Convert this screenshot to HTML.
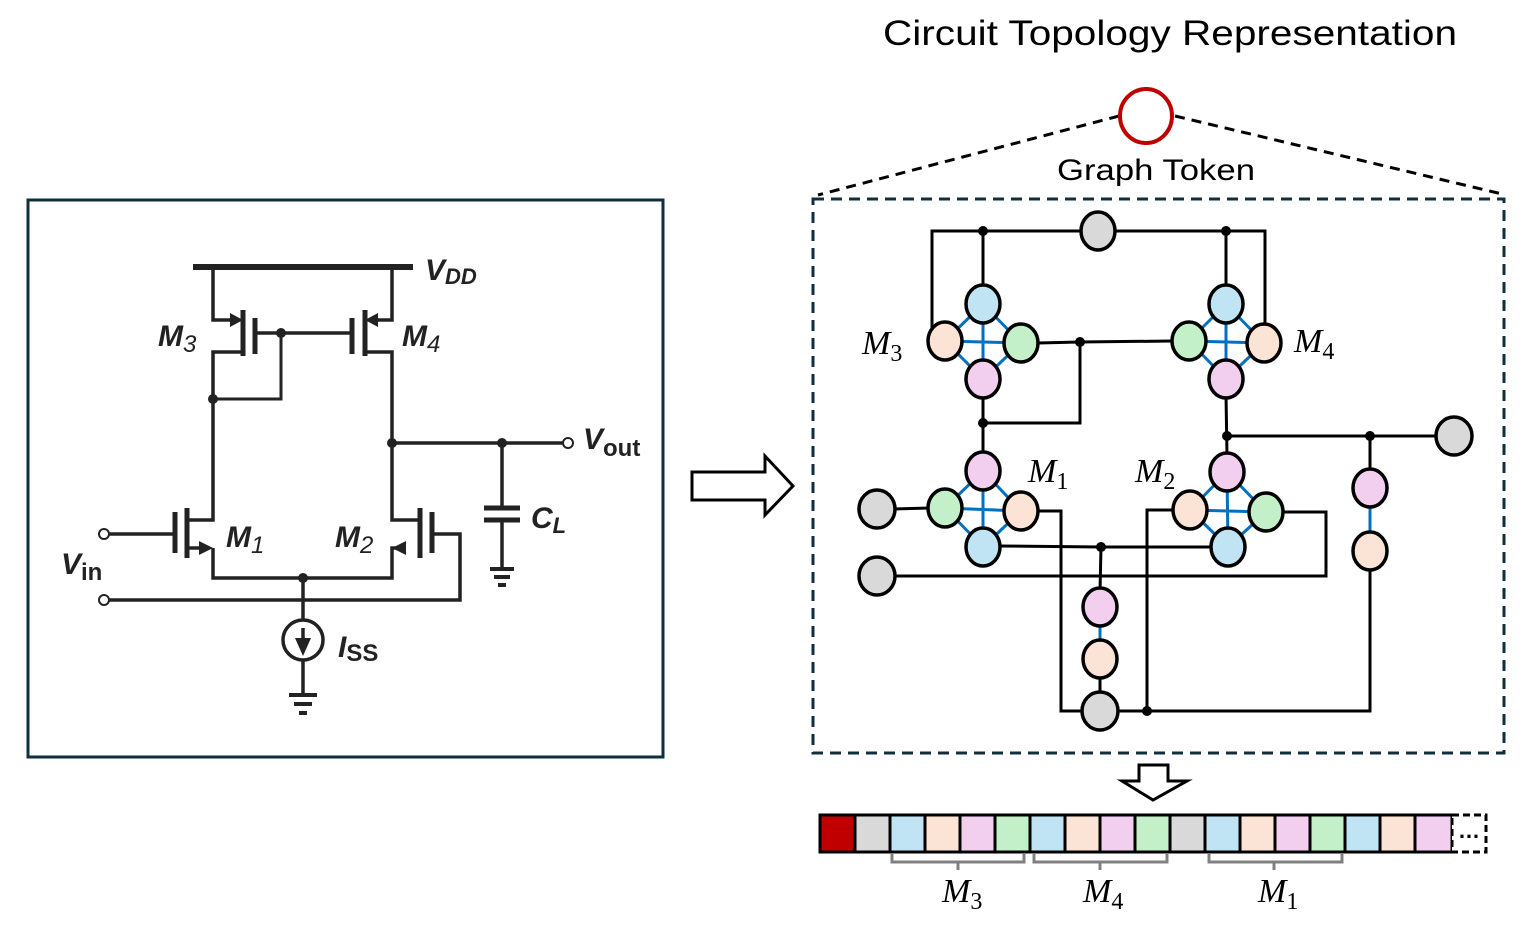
<!DOCTYPE html>
<html><head><meta charset="utf-8"><style>
html,body{margin:0;padding:0;background:#fff;}
svg{display:block;}
.cl{font-family:"Liberation Sans",sans-serif;font-weight:bold;font-style:italic;fill:#222;}
.gl{font-family:"Liberation Serif",serif;font-style:italic;fill:#000;}
.sub{font-family:"Liberation Serif",serif;font-style:normal;}
</style></head><body>
<svg width="1538" height="926" viewBox="0 0 1538 926" xmlns="http://www.w3.org/2000/svg">
<rect x="28" y="200" width="635" height="557" fill="#fff" stroke="#0f2f3f" stroke-width="3"/>
<g stroke="#222" stroke-width="3.5" fill="none">
  <line x1="193" y1="267" x2="413" y2="267" stroke-width="6"/>
  <polyline points="213,267 213,320 232,320"/>
  <line x1="243" y1="310" x2="243" y2="356" stroke-width="5"/>
  <line x1="255" y1="318" x2="255" y2="354" stroke-width="5"/>
  <polyline points="243,352 213,352 213,520 187,520"/>
  <line x1="255" y1="333" x2="350" y2="333"/>
  <polyline points="213,399 281,399 281,333" stroke-width="3"/>
  <polyline points="392,267 392,320 375,320"/>
  <line x1="365" y1="310" x2="365" y2="356" stroke-width="5"/>
  <line x1="352" y1="318" x2="352" y2="354" stroke-width="5"/>
  <polyline points="365,352 392,352 392,520 420,520"/>
  <line x1="187" y1="508" x2="187" y2="558" stroke-width="5"/>
  <line x1="175" y1="512" x2="175" y2="553" stroke-width="5"/>
  <line x1="109" y1="534" x2="175" y2="534"/>
  <polyline points="187,548 200,548"/>
  <polyline points="213,548 213,578 392,578 392,548 405,548"/>
  <line x1="420" y1="508" x2="420" y2="558" stroke-width="5"/>
  <line x1="432" y1="512" x2="432" y2="553" stroke-width="5"/>
  <polyline points="432,534 460,534 460,600 109,600"/>
  <line x1="392" y1="443" x2="563" y2="443"/>
  <line x1="502" y1="443" x2="502" y2="508"/>
  <line x1="484" y1="508" x2="520" y2="508" stroke-width="5"/>
  <line x1="484" y1="520" x2="520" y2="520" stroke-width="5"/>
  <line x1="502" y1="520" x2="502" y2="568"/>
  <line x1="490" y1="569" x2="514" y2="569" stroke-width="4"/>
  <line x1="494" y1="577" x2="510" y2="577" stroke-width="4"/>
  <line x1="498" y1="585" x2="506" y2="585" stroke-width="4"/>
  <line x1="303" y1="578" x2="303" y2="620"/>
  <circle cx="303" cy="640" r="20"/>
  <line x1="303" y1="628" x2="303" y2="640"/>
  <line x1="303" y1="660" x2="303" y2="694"/>
  <line x1="289" y1="695" x2="317" y2="695" stroke-width="4"/>
  <line x1="294" y1="704" x2="312" y2="704" stroke-width="4"/>
  <line x1="299" y1="713" x2="307" y2="713" stroke-width="4"/>
</g>
<g fill="#222">
  <polygon points="243,320 230,313 230,327"/>
  <polygon points="365,320 378,313 378,327"/>
  <polygon points="213,548 199,541 199,555"/>
  <polygon points="392,548 406,541 406,555"/>
  <polygon points="303,656 295,638 311,638"/>
  <circle cx="281" cy="333" r="5"/><circle cx="213" cy="399" r="5"/>
  <circle cx="392" cy="443" r="5"/><circle cx="502" cy="443" r="5"/>
  <circle cx="303" cy="578" r="5"/>
</g>
<g fill="#fff" stroke="#222" stroke-width="2">
  <circle cx="104" cy="534" r="5"/><circle cx="104" cy="600" r="5"/><circle cx="568" cy="443" r="5"/>
</g>
<text class="cl" x="425" y="280" font-size="30">V<tspan font-size="22" dy="4">DD</tspan></text>
<text class="cl" x="158" y="346" font-size="30">M<tspan font-size="24" dy="6" font-weight="normal">3</tspan></text>
<text class="cl" x="402" y="346" font-size="30">M<tspan font-size="24" dy="6" font-weight="normal">4</tspan></text>
<text class="cl" x="226" y="547" font-size="30">M<tspan font-size="24" dy="6" font-weight="normal">1</tspan></text>
<text class="cl" x="335" y="547" font-size="30">M<tspan font-size="24" dy="6" font-weight="normal">2</tspan></text>
<text class="cl" x="61" y="574" font-size="30">V<tspan font-size="24" dy="6" font-style="normal">in</tspan></text>
<text class="cl" x="583" y="449" font-size="30">V<tspan font-size="24" dy="7" font-style="normal">out</tspan></text>
<text class="cl" x="531" y="528" font-size="30" font-style="normal">C<tspan font-size="22" dy="5">L</tspan></text>
<text class="cl" x="338" y="657" font-size="30">I<tspan font-size="24" dy="4" font-style="normal">SS</tspan></text>

<polygon points="692,472 765,472 765,456 793,486 765,515 765,500 692,500" fill="#fff" stroke="#000" stroke-width="3"/>

<text x="1170" y="45" font-family="Liberation Sans,sans-serif" font-size="35" text-anchor="middle" textLength="574" lengthAdjust="spacingAndGlyphs">Circuit Topology Representation</text>
<text x="1156" y="180" font-family="Liberation Sans,sans-serif" font-size="30" text-anchor="middle" textLength="198" lengthAdjust="spacingAndGlyphs">Graph Token</text>
<g stroke="#000" stroke-width="3" stroke-dasharray="10,7" fill="none">
  <line x1="1119" y1="116" x2="818" y2="195"/>
  <line x1="1175" y1="116" x2="1502" y2="194"/>
</g>
<ellipse cx="1146" cy="116" rx="26" ry="27" fill="#fff" stroke="#c00000" stroke-width="4"/>
<rect x="813" y="199" width="691" height="554" fill="none" stroke="#0f2f3f" stroke-width="3" stroke-dasharray="11,7"/>

<g stroke="#000" stroke-width="3" fill="none">
  <polyline points="932,330 932,231 1265,231 1265,330"/>
  <line x1="983" y1="231" x2="983" y2="290"/>
  <line x1="1226" y1="231" x2="1226" y2="290"/>
  <polyline points="1038,343 1080,342 1172,341"/>
  <polyline points="1080,342 1080,423 983,423"/>
  <line x1="983" y1="395" x2="983" y2="455"/>
  <line x1="1226" y1="395" x2="1227" y2="456"/>
  <line x1="1227" y1="436" x2="1440" y2="436"/>
  <line x1="1370" y1="436" x2="1370" y2="470"/>
  <polyline points="1370,568 1370,711 1115,711"/>
  <line x1="893" y1="509" x2="930" y2="508"/>
  <polyline points="893,576 1326,576 1326,512 1282,512"/>
  <polyline points="1000,546 1101,547 1212,547"/>
  <line x1="1101" y1="547" x2="1100" y2="592"/>
  <line x1="1100" y1="675" x2="1100" y2="695"/>
  <polyline points="1037,511 1061,511 1061,711 1084,711"/>
  <polyline points="1174,510 1147,510 1147,711"/>
</g>
<g stroke="#0070c0" stroke-width="3">
  <line x1="945" y1="341" x2="1021" y2="343"/><line x1="983" y1="304" x2="983" y2="379"/>
  <line x1="983" y1="304" x2="945" y2="341"/><line x1="983" y1="304" x2="1021" y2="343"/>
  <line x1="983" y1="379" x2="945" y2="341"/><line x1="983" y1="379" x2="1021" y2="343"/>
  <line x1="1189" y1="341" x2="1264" y2="343"/><line x1="1226" y1="304" x2="1226" y2="379"/>
  <line x1="1226" y1="304" x2="1189" y2="341"/><line x1="1226" y1="304" x2="1264" y2="343"/>
  <line x1="1226" y1="379" x2="1189" y2="341"/><line x1="1226" y1="379" x2="1264" y2="343"/>
  <line x1="945" y1="508" x2="1021" y2="511"/><line x1="983" y1="471" x2="983" y2="547"/>
  <line x1="983" y1="471" x2="945" y2="508"/><line x1="983" y1="471" x2="1021" y2="511"/>
  <line x1="983" y1="547" x2="945" y2="508"/><line x1="983" y1="547" x2="1021" y2="511"/>
  <line x1="1190" y1="510" x2="1266" y2="512"/><line x1="1227" y1="472" x2="1228" y2="547"/>
  <line x1="1227" y1="472" x2="1190" y2="510"/><line x1="1227" y1="472" x2="1266" y2="512"/>
  <line x1="1228" y1="547" x2="1190" y2="510"/><line x1="1228" y1="547" x2="1266" y2="512"/>
  <line x1="1370" y1="488" x2="1370" y2="551"/>
  <line x1="1100" y1="607" x2="1100" y2="659"/>
</g>
<g fill="#000">
  <circle cx="983" cy="231" r="5"/><circle cx="1226" cy="231" r="5"/>
  <circle cx="1080" cy="342" r="5"/><circle cx="983" cy="423" r="5"/>
  <circle cx="1227" cy="436" r="5"/><circle cx="1370" cy="436" r="5"/>
  <circle cx="1101" cy="547" r="5"/><circle cx="1147" cy="711" r="5"/>
</g>
<g stroke="#000" stroke-width="3.5">
  <ellipse cx="1098" cy="231" rx="17" ry="19" fill="#d9d9d9"/>
  <ellipse cx="983" cy="304" rx="17" ry="19" fill="#c1e4f5"/>
  <ellipse cx="945" cy="341" rx="17" ry="19" fill="#fbe3d6"/>
  <ellipse cx="1021" cy="343" rx="17" ry="19" fill="#c3f0c8"/>
  <ellipse cx="983" cy="379" rx="17" ry="19" fill="#f2cfee"/>
  <ellipse cx="1226" cy="304" rx="17" ry="19" fill="#c1e4f5"/>
  <ellipse cx="1189" cy="341" rx="17" ry="19" fill="#c3f0c8"/>
  <ellipse cx="1264" cy="343" rx="17" ry="19" fill="#fbe3d6"/>
  <ellipse cx="1226" cy="379" rx="17" ry="19" fill="#f2cfee"/>
  <ellipse cx="983" cy="471" rx="17" ry="19" fill="#f2cfee"/>
  <ellipse cx="945" cy="508" rx="17" ry="19" fill="#c3f0c8"/>
  <ellipse cx="1021" cy="511" rx="17" ry="19" fill="#fbe3d6"/>
  <ellipse cx="983" cy="547" rx="17" ry="19" fill="#c1e4f5"/>
  <ellipse cx="1227" cy="472" rx="17" ry="19" fill="#f2cfee"/>
  <ellipse cx="1190" cy="510" rx="17" ry="19" fill="#fbe3d6"/>
  <ellipse cx="1266" cy="512" rx="17" ry="19" fill="#c3f0c8"/>
  <ellipse cx="1228" cy="547" rx="17" ry="19" fill="#c1e4f5"/>
  <ellipse cx="1370" cy="488" rx="17" ry="19" fill="#f2cfee"/>
  <ellipse cx="1370" cy="551" rx="17" ry="19" fill="#fbe3d6"/>
  <ellipse cx="1454" cy="436" rx="18" ry="19" fill="#d9d9d9"/>
  <ellipse cx="877" cy="509" rx="18" ry="19" fill="#d9d9d9"/>
  <ellipse cx="877" cy="576" rx="18" ry="19" fill="#d9d9d9"/>
  <ellipse cx="1100" cy="607" rx="17" ry="19" fill="#f2cfee"/>
  <ellipse cx="1100" cy="659" rx="17" ry="19" fill="#fbe3d6"/>
  <ellipse cx="1100" cy="711" rx="18" ry="19" fill="#d9d9d9"/>
</g>
<text class="gl" x="862" y="354" font-size="34">M<tspan class="sub" font-size="24" dy="7">3</tspan></text>
<text class="gl" x="1294" y="352" font-size="34">M<tspan class="sub" font-size="24" dy="7">4</tspan></text>
<text class="gl" x="1028" y="482" font-size="34">M<tspan class="sub" font-size="24" dy="7">1</tspan></text>
<text class="gl" x="1135" y="482" font-size="34">M<tspan class="sub" font-size="24" dy="7">2</tspan></text>

<polygon points="1139,765 1168,765 1168,781 1187,781 1153,800 1122,781 1139,781" fill="#fff" stroke="#000" stroke-width="3"/>

<g stroke="#000" stroke-width="3">
  <rect x="820" y="815" width="35" height="37" fill="#c00000"/>
  <rect x="855" y="815" width="35" height="37" fill="#d9d9d9"/>
  <rect x="890" y="815" width="35" height="37" fill="#c1e4f5"/>
  <rect x="925" y="815" width="35" height="37" fill="#fbe3d6"/>
  <rect x="960" y="815" width="35" height="37" fill="#f2cfee"/>
  <rect x="995" y="815" width="35" height="37" fill="#c3f0c8"/>
  <rect x="1030" y="815" width="35" height="37" fill="#c1e4f5"/>
  <rect x="1065" y="815" width="35" height="37" fill="#fbe3d6"/>
  <rect x="1100" y="815" width="35" height="37" fill="#f2cfee"/>
  <rect x="1135" y="815" width="35" height="37" fill="#c3f0c8"/>
  <rect x="1170" y="815" width="35" height="37" fill="#d9d9d9"/>
  <rect x="1205" y="815" width="35" height="37" fill="#c1e4f5"/>
  <rect x="1240" y="815" width="35" height="37" fill="#fbe3d6"/>
  <rect x="1275" y="815" width="35" height="37" fill="#f2cfee"/>
  <rect x="1310" y="815" width="35" height="37" fill="#c3f0c8"/>
  <rect x="1345" y="815" width="35" height="37" fill="#c1e4f5"/>
  <rect x="1380" y="815" width="35" height="37" fill="#fbe3d6"/>
  <rect x="1415" y="815" width="37" height="37" fill="#f2cfee"/>
  <rect x="1452" y="815" width="34" height="37" fill="#fff" stroke-dasharray="7,4"/>
</g>
<text x="1469" y="838" font-family="Liberation Sans,sans-serif" font-size="22" font-weight="bold" text-anchor="middle">…</text>
<g stroke="#808080" stroke-width="3" fill="none">
  <polyline points="892,853 892,862 1024,862 1024,853"/><line x1="958" y1="862" x2="958" y2="870"/>
  <polyline points="1034,853 1034,862 1167,862 1167,853"/><line x1="1100" y1="862" x2="1100" y2="870"/>
  <polyline points="1209,853 1209,862 1342,862 1342,853"/><line x1="1274" y1="862" x2="1274" y2="870"/>
</g>
<text class="gl" x="942" y="902" font-size="34">M<tspan class="sub" font-size="24" dy="7">3</tspan></text>
<text class="gl" x="1083" y="902" font-size="34">M<tspan class="sub" font-size="24" dy="7">4</tspan></text>
<text class="gl" x="1258" y="902" font-size="34">M<tspan class="sub" font-size="24" dy="7">1</tspan></text>
</svg>
</body></html>
